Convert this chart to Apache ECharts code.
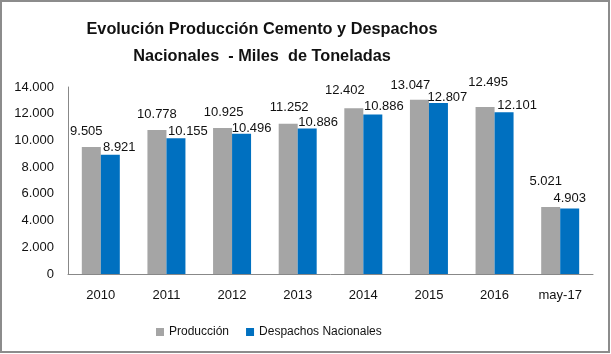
<!DOCTYPE html>
<html>
<head>
<meta charset="utf-8">
<title>Cemento</title>
<script src="https://cdn.jsdelivr.net/npm/echarts@6/dist/echarts.min.js"></script>
<style>
  html, body { margin: 0; padding: 0; background: #fff; }
  #main { width: 611px; height: 354px; }
</style>
</head>
<body>
<div id="main"></div>
<script>
const categories = ['2010', '2011', '2012', '2013', '2014', '2015', '2016', 'may-17']
const produccion = [9505, 10778, 10925, 11252, 12402, 13047, 12495, 5021]
// 2014: the printed label says 10.886 but the bar is drawn near 11.950
const despachos = [8921, 10155, 10496, 10886, 11950, 12807, 12101, 4903]
const despachosLabels = ['8.921', '10.155', '10.496', '10.886', '10.886', '12.807', '12.101', '4.903']
const yTicks = [0, 2000, 4000, 6000, 8000, 10000, 12000, 14000]

// label placement, [dx, height of label centre above bar top]
const prodShift = [[-5, 16], [0, 16], [1, 16], [1, 17], [-9, 18], [-9, 15], [3, 25], [-5, 26]]
const despShift = [[9, 8], [12, 7], [10, 6], [11, 7], [11, 8], [9, 6], [13, 7], [0, 11]]

const fmt = v => v >= 1000 ? Math.floor(v / 1000) + '.' + String(v % 1000).padStart(3, '0') : String(v)

const font = "'Liberation Sans', Arial, sans-serif"
const grey = '#a5a5a5'
const blue = '#0070c0'

const myChart = echarts.init(document.getElementById('main'), null, { renderer: 'canvas' })

const labelFor = (shift, text) => ({
  show: true,
  position: 'top',
  distance: 0,
  offset: [shift[0], -(shift[1] - 7)],
  formatter: text,
  color: '#111',
  fontSize: 13,
  fontFamily: font,
})

const option = {
  backgroundColor: '#fff',
  animation: false,
  textStyle: { fontFamily: font },
  graphic: [{
    type: 'rect',
    shape: { x: 1, y: 1, width: 608, height: 351 },
    style: { fill: 'none', stroke: '#8c8c8c', lineWidth: 2 },
    silent: true,
  }],
  title: {
    text: 'Evolución Producción Cemento y Despachos\nNacionales  - Miles  de Toneladas',
    left: 257,
    textAlign: 'center',
    top: 11,
    textStyle: {
      fontFamily: font,
      fontSize: 16.3,
      fontWeight: 'bold',
      lineHeight: 27,
      color: '#111',
    },
  },
  legend: {
    left: 151,
    top: 321,
    itemWidth: 8,
    itemHeight: 8,
    itemGap: 17,
    icon: 'rect',
    textStyle: { fontSize: 12, color: '#111', fontFamily: font },
    data: ['Producción', 'Despachos Nacionales'],
  },
  grid: { left: 68, right: 18, top: 87, bottom: 80, containLabel: false },
  xAxis: {
    type: 'category',
    data: categories,
    axisLine: { lineStyle: { color: '#888', width: 1 } },
    axisTick: { show: false },
    axisLabel: { color: '#111', fontSize: 13, margin: 15, fontFamily: font },
  },
  yAxis: {
    type: 'value',
    min: yTicks[0],
    max: yTicks[yTicks.length - 1],
    interval: 2000,
    splitLine: { show: false },
    axisLine: { show: true, lineStyle: { color: '#888', width: 1 } },
    axisTick: { show: false },
    axisLabel: { color: '#111', fontSize: 13, margin: 14, fontFamily: font, formatter: fmt },
  },
  series: [
    {
      name: 'Producción',
      type: 'bar',
      barWidth: 19,
      barGap: '0%',
      itemStyle: { color: grey },
      data: produccion.map((v, i) => ({ value: v, label: labelFor(prodShift[i], fmt(v)) })),
    },
    {
      name: 'Despachos Nacionales',
      type: 'bar',
      barWidth: 19,
      barGap: '0%',
      itemStyle: { color: blue },
      data: despachos.map((v, i) => ({ value: v, label: labelFor(despShift[i], despachosLabels[i]) })),
    },
  ],
}

myChart.setOption(option)
</script>
</body>
</html>
